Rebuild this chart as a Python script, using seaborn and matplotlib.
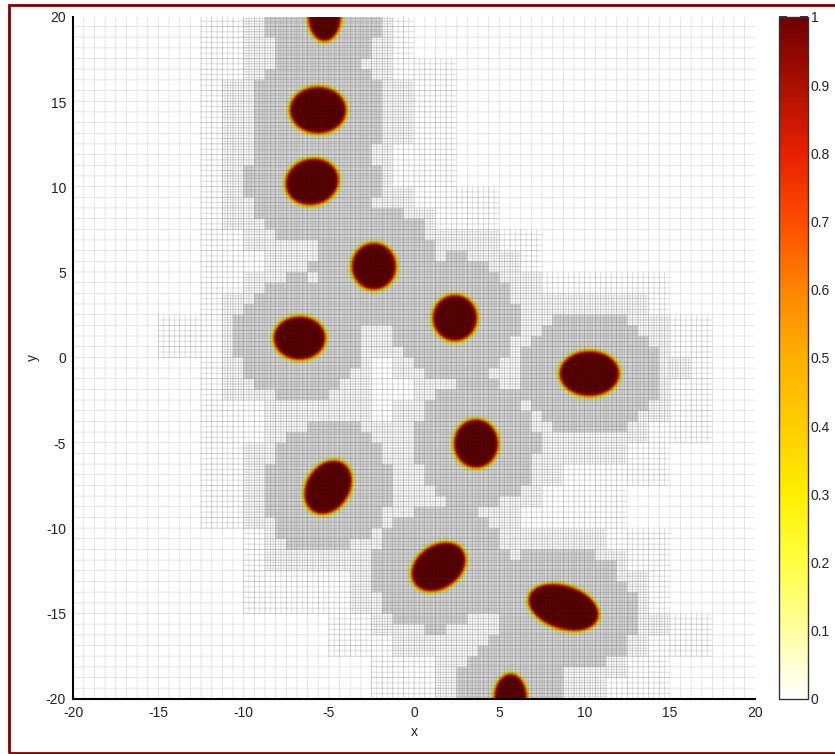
import numpy as np
import matplotlib
matplotlib.use("Agg")
import matplotlib.pyplot as plt
import seaborn as sns
from matplotlib.patches import Rectangle

# ellipses: centre, semi axes, tilt (degrees)
cx = [-5.25, -5.63, -5.98, -2.35, -6.71, 2.40, 10.29, 3.64, -5.04, 1.44, 8.77, 5.66]
cy = [20.0, 14.49, 10.29, 5.34, 1.14, 2.32, -0.94, -5.04, -7.60, -12.26, -14.63, -20.0]
ax_a = [1.0, 1.68, 1.60, 1.33, 1.55, 1.33, 1.78, 1.33, 1.70, 1.75, 2.15, 1.0]
ax_b = [1.5, 1.40, 1.38, 1.40, 1.30, 1.38, 1.35, 1.45, 1.30, 1.30, 1.30, 1.5]
tilt = [0, 0, 15, 0, 0, 0, 0, 0, 58, 35, -18, 0]

# mesh: refinement distance per level, line strength per level
ref_dist = [None, 5.6, 3.6, 2.3]
line_alpha = [0.32, 0.4, 0.36, 0.4]

cbar_ticks = [0, 0.1, 0.2, 0.3, 0.4, 0.5, 0.6, 0.7, 0.8, 0.9, 1.0]
cmap_colors = ["#ffffff", "#ffffa0", "#ffff40", "#ffee00", "#ffcc00", "#ffb000",
               "#ff8400", "#ff4c00", "#e82000", "#ac1000", "#6e0000"]

N = 2048
L = 20.0


def dist_to_ellipses(X, Y):
    d = np.full(X.shape, np.inf)
    for x0, y0, a, b, t in zip(cx, cy, ax_a, ax_b, tilt):
        th = np.deg2rad(t)
        dx, dy = X - x0, Y - y0
        u = dx * np.cos(th) + dy * np.sin(th)
        v = -dx * np.sin(th) + dy * np.cos(th)
        r = np.sqrt((u / a) ** 2 + (v / b) ** 2) + 1e-9
        rho = np.sqrt(dx ** 2 + dy ** 2)
        d = np.minimum(d, rho * (1 - 1 / r))
    return d


c = -L + (np.arange(N) + 0.5) * 2 * L / N
X, Y = np.meshgrid(c, c)
field = 0.5 * (1 - np.tanh(dist_to_ellipses(X, Y) / 0.13))

# refinement level map, blocky
lev = np.zeros((N, N), dtype=int)
for k in (1, 2, 3):
    bs = 256 >> k
    nb = N // bs
    cc = -L + (np.arange(nb) + 0.5) * bs * 2 * L / N
    BX, BY = np.meshgrid(cc, cc)
    ok = dist_to_ellipses(BX, BY) < ref_dist[k]
    ok = np.repeat(np.repeat(ok, bs, axis=0), bs, axis=1)
    lev[ok] = np.maximum(lev[ok], k)

idx = np.arange(N)
dark = np.zeros((N, N))
for k in range(4):
    s = 32 >> k
    l1 = (idx % s == 0)
    lines = (l1[None, :] | l1[:, None]) & (lev >= k)
    dark = 1 - (1 - dark) * (1 - line_alpha[k] * lines)

mesh = np.zeros((N, N, 4))
mesh[..., 3] = dark

sns.set_theme(style="white")
plt.rcParams["font.family"] = ["Liberation Sans", "DejaVu Sans"]
plt.rcParams["axes.unicode_minus"] = False

cmap = sns.blend_palette(cmap_colors, as_cmap=True)

fig = plt.figure(figsize=(8.35, 7.54), dpi=100)
ax = fig.add_axes([73 / 835, 1 - 699 / 754, 682 / 835, 682 / 754])
im = ax.imshow(field, origin="lower", extent=[-L, L, -L, L], cmap=cmap,
               vmin=0, vmax=1, interpolation="antialiased")
ax.imshow(mesh, origin="lower", extent=[-L, L, -L, L], interpolation="antialiased")
ax.set_xlim(-20, 20)
ax.set_ylim(-20, 20)
ax.set_xticks(np.arange(-20, 21, 5))
ax.set_yticks(np.arange(-20, 21, 5))
ax.set_aspect("auto")
for side in ("top", "right"):
    ax.spines[side].set_visible(False)
for side in ("left", "bottom"):
    ax.spines[side].set_color("black")
    ax.spines[side].set_linewidth(1.5)
ax.tick_params(length=0, labelsize=10, colors="#222222", pad=5)
ax.set_xlabel("x", fontsize=10, color="#222222")
ax.set_ylabel("y", fontsize=10, color="#222222")

cax = fig.add_axes([779 / 835, 1 - 699 / 754, 29 / 835, 682 / 754])
cb = fig.colorbar(im, cax=cax, ticks=cbar_ticks)
cb.ax.set_yticklabels([f"{v:g}" for v in cbar_ticks])
cb.ax.tick_params(which="major", direction="in", left=True, right=True,
                  length=6, width=1.3, labelsize=10, colors="#222222", pad=2)
cb.ax.tick_params(labelleft=False)
cb.outline.set_edgecolor("#333333")
cb.outline.set_linewidth(1.0)

fig.patches.append(Rectangle((9 / 835, 1 / 754), 1.0, 748 / 754, transform=fig.transFigure,
                             fill=False, edgecolor="#7f0000", linewidth=2.0))

fig.savefig("out.png", dpi=100)
